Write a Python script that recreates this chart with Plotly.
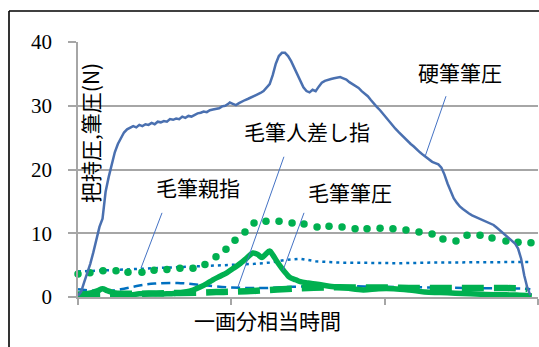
import plotly.graph_objects as go

# ---- data (x: time units 0..300, y: force N) ----
hard_t = [0, 2, 4, 6, 8, 10, 12, 14, 16, 17, 18, 20, 22, 24, 26, 28, 30, 32, 34, 36, 38, 40, 42, 44, 46, 48, 50,
          52, 54, 56, 58, 60, 62, 64, 66, 68, 70, 72, 74, 76, 78, 80, 82, 84, 86, 88, 90, 92, 94, 96, 98, 99,
          101, 103, 105, 107, 109, 111, 113, 115, 117, 119, 121, 123, 125, 127, 129, 131, 133, 135, 137, 139,
          141, 143, 145, 147, 149, 151, 153, 155, 157, 159, 161, 163, 165, 167, 169, 171, 173, 175, 177, 179,
          181, 183, 185, 187, 189, 191, 193, 195, 197, 199, 201, 203, 205, 207, 209, 211, 213, 215, 217, 219,
          221, 223, 225, 227, 229, 231, 233, 235, 237, 239, 241, 243, 245, 247, 249, 251, 253, 255, 257, 259,
          261, 263, 265, 267, 269, 271, 273, 275, 277, 279, 281, 283, 285, 287, 289, 291, 293, 295]
hard_v = [0.2, 0.8, 2.3, 3.7, 5.2, 7.0, 9.0, 11.0, 12.3, 14.5, 16.5, 18.8, 20.8, 22.7, 24.0, 25.0, 25.8, 26.3,
          26.6, 26.8, 26.6, 27.0, 26.8, 27.1, 27.0, 27.3, 27.1, 27.5, 27.4, 27.6, 27.5, 27.9, 27.8, 28.0, 27.9,
          28.3, 28.1, 28.4, 28.3, 28.6, 28.8, 28.9, 29.1, 29.0, 29.3, 29.4, 29.5, 29.6, 29.9, 30.0, 30.3, 30.5,
          30.3, 30.1, 30.4, 30.7, 30.9, 31.1, 31.3, 31.5, 31.8, 32.0, 32.3, 32.8, 33.4, 34.8, 36.6, 37.8, 38.3,
          38.3, 37.8, 37.0, 36.0, 35.0, 33.8, 32.9, 32.3, 32.1, 32.5, 32.3, 33.0, 33.6, 33.9, 34.1, 34.2, 34.3,
          34.4, 34.5, 34.3, 34.1, 33.7, 33.4, 33.1, 32.8, 32.3, 31.9, 31.5, 30.9, 30.3, 29.8, 29.3, 28.7, 28.2,
          27.6, 27.0, 26.4, 25.9, 25.4, 24.9, 24.4, 24.0, 23.6, 23.1, 22.7, 22.3, 21.9, 21.5, 21.2, 21.0, 20.8,
          20.3, 19.2, 17.8, 16.6, 15.5, 14.8, 14.2, 13.8, 13.4, 13.1, 12.8, 12.6, 12.4, 12.2, 12.0, 11.8, 11.6,
          11.3, 10.9, 10.5, 10.0, 9.6, 9.2, 8.8, 8.4, 7.6, 6.0, 3.4, 1.5, 0.3]

dots_t = [0, 7.8, 16.3, 24.8, 32.6, 41.7, 49.6, 58, 66.5, 75, 82.8, 90, 96.5, 102.4, 108.9, 114.8, 122.6,
          131.1, 139.6, 147.4, 155.9, 163.7, 172.2, 180.7, 188.5, 197, 205.4, 213.9, 222.4, 230.9, 238,
          246.5, 253.7, 262.2, 270, 279.1, 287, 295.4]
dots_v = [3.6, 3.8, 4.1, 4.1, 3.9, 3.9, 4.2, 4.3, 4.5, 4.5, 5.1, 6.3, 7.5, 8.9, 10.2, 11.6, 11.9, 11.9, 11.6,
          11.45, 11.0, 11.1, 11.0, 10.7, 10.7, 10.8, 10.7, 10.5, 10.2, 9.9, 9.1, 8.8, 9.7, 9.7, 9.25, 8.8,
          8.6, 8.5]

thumb_t = [0, 20, 40, 60, 80, 100, 115, 125, 135, 145, 155, 170, 190, 210, 230, 250, 270, 290, 295]
thumb_v = [4.0, 4.2, 4.5, 4.6, 4.8, 5.0, 5.2, 5.4, 5.8, 6.0, 5.6, 5.4, 5.3, 5.3, 5.4, 5.4, 5.5, 5.5, 5.5]

index_t = [0, 10, 20, 30, 40, 50, 65, 80, 100, 120, 140, 170, 200, 230, 260, 290, 295]
index_v = [1.2, 1.0, 0.95, 1.3, 1.8, 2.1, 2.2, 1.9, 1.5, 1.4, 1.6, 1.7, 1.6, 1.5, 1.4, 1.3, 1.2]

brush_t = [0, 5, 9, 13, 16, 19, 23, 28, 33, 40, 46, 52, 58, 64, 70, 75, 80, 84, 88, 93, 97, 102, 106, 110,
           114, 117, 120, 122, 125, 127, 130, 133, 136, 138, 142, 145, 150, 156, 164, 175, 186, 196, 206,
           216, 226, 236, 246, 256, 266, 276, 286, 296]
brush_v = [0.3, 0.5, 0.7, 1.0, 1.3, 1.0, 0.7, 0.4, 0.3, 0.5, 0.6, 0.5, 0.5, 0.6, 0.8, 1.1, 1.6, 2.1, 2.7,
           3.3, 3.8, 4.6, 5.3, 6.1, 6.9, 6.7, 6.2, 6.6, 7.2, 6.6, 5.5, 4.5, 3.6, 3.1, 2.7, 2.4, 2.2, 2.0,
           1.7, 1.4, 1.1, 1.3, 1.3, 1.1, 0.8, 0.7, 0.6, 0.5, 0.4, 0.35, 0.3, 0.15]

gdash_t = [0, 20, 40, 60, 80, 95, 110, 125, 140, 160, 180, 200, 220, 240, 260, 280, 293]
gdash_v = [0.4, 0.5, 0.5, 0.6, 0.7, 0.8, 0.9, 1.1, 1.3, 1.5, 1.5, 1.5, 1.4, 1.4, 1.4, 1.4, 1.3]

x_ticks = [0, 100, 200, 300]
y_ticks = [0, 10, 20, 30, 40]

labels = ["硬筆筆圧", "毛筆人差し指", "毛筆親指", "毛筆筆圧"]
label_pos = [(249.1, 35.3), (149.3, 26.0), (78.3, 17.3), (177.4, 16.5)]
leader = [((240, 31.5), (226.3, 22.0)), ((134.3, 22.0), (104.3, 1.57)),
          ((54.8, 13.2), (41.1, 4.55)), ((147.4, 13.2), (133.7, 4.2))]

BLUE = "#4a70b0"
BLUE2 = "#0070c0"
GREEN = "#00b050"
GRID = "#a6a6a6"

fig = go.Figure()
fig.add_trace(go.Scatter(x=thumb_t, y=thumb_v, mode="lines",
                         line=dict(color=BLUE2, width=2.5, dash="3px,4px"), name="毛筆親指"))
fig.add_trace(go.Scatter(x=index_t, y=index_v, mode="lines", line_shape="spline",
                         line=dict(color=BLUE2, width=2.5, dash="9px,5px"), name="毛筆人差し指"))
fig.add_trace(go.Scatter(x=dots_t, y=dots_v, mode="markers", cliponaxis=False,
                         marker=dict(color=GREEN, size=7.5, line=dict(width=0)), name="dots"))
fig.add_trace(go.Scatter(x=brush_t, y=brush_v, mode="lines", line_shape="spline",
                         line=dict(color=GREEN, width=5.5), name="毛筆筆圧"))
fig.add_trace(go.Scatter(x=gdash_t, y=gdash_v, mode="lines", line_shape="spline",
                         line=dict(color=GREEN, width=6.5, dash="22px,10px"), name="gdash"))
fig.add_trace(go.Scatter(x=hard_t, y=hard_v, mode="lines",
                         line=dict(color=BLUE, width=2.5), name="硬筆筆圧"))

for (a, b) in leader:
    fig.add_shape(type="line", xref="x", yref="y", x0=a[0], y0=a[1], x1=b[0], y1=b[1],
                  line=dict(color="#4472c4", width=1))

for txt, (tx, ty) in zip(labels, label_pos):
    fig.add_annotation(x=tx, y=ty, xref="x", yref="y", text=txt, showarrow=False,
                       xanchor="center", yanchor="middle",
                       font=dict(family="Noto Sans CJK JP", size=21, color="black"))

fig.add_annotation(x=0.411, y=-0.09, xref="paper", yref="paper", text="一画分相当時間",
                   xanchor="center", yanchor="middle",
                   showarrow=False, font=dict(family="Noto Sans CJK JP", size=21, color="black"))
fig.add_annotation(x=0.026, y=0.643, xref="paper", yref="paper", text="把持圧,筆圧(N)",
                   xanchor="center", yanchor="middle",
                   textangle=-90, showarrow=False,
                   font=dict(family="Noto Sans CJK JP", size=21, color="black"))

# outer frame (cropped)
fig.add_shape(type="line", xref="paper", yref="paper", x0=-0.15, y0=-0.2, x1=-0.15, y1=1.1216,
              line=dict(color="black", width=1.6))
fig.add_shape(type="line", xref="paper", yref="paper", x0=-0.15, y0=1.1216, x1=1.01, y1=1.1216,
              line=dict(color="black", width=1.6))

fig.update_layout(
    width=539, height=347,
    margin=dict(l=78, r=1, t=42, b=50),
    paper_bgcolor="white", plot_bgcolor="white",
    showlegend=False,
)
fig.update_xaxes(range=[0, 300], tickvals=x_ticks, showticklabels=False, ticks="outside", ticklen=6,
                 tickcolor=GRID, tickwidth=1.5, showline=True, linecolor=GRID, linewidth=1.5,
                 showgrid=False, zeroline=False)
fig.update_yaxes(range=[0, 40], tickvals=y_ticks, ticks="outside", ticklen=8, tickcolor=GRID,
                 tickwidth=1.5, showline=True, linecolor=GRID, linewidth=1.5,
                 showgrid=True, gridcolor=GRID, gridwidth=1.5, zeroline=False,
                 ticklabelstandoff=12,
                 tickfont=dict(family="Liberation Serif", size=21, color="black"))

fig.write_html("out.html")
